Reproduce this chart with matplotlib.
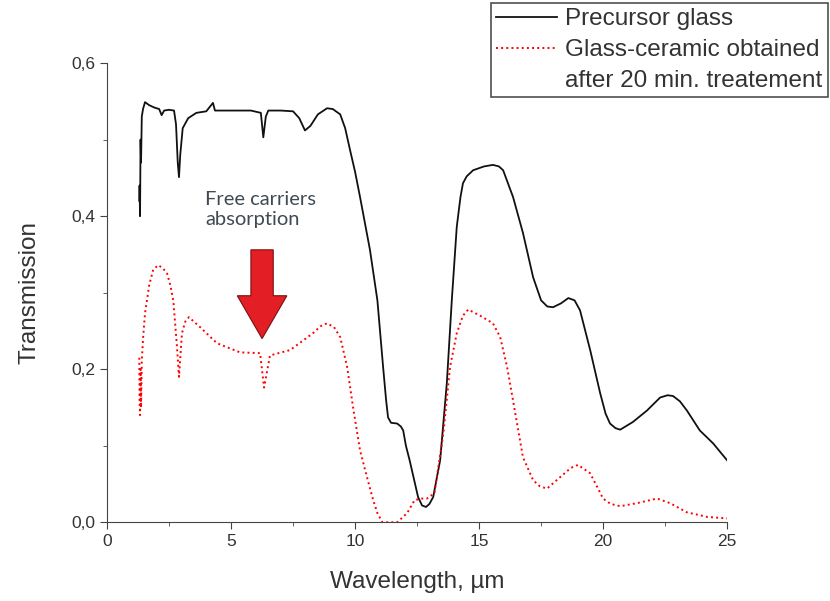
import matplotlib
matplotlib.use('Agg')
import matplotlib.pyplot as plt
from matplotlib.lines import Line2D
from matplotlib.patches import FancyArrow
from matplotlib.ticker import MultipleLocator, FuncFormatter

# Precursor glass (black solid)
wl_glass = [1.30, 1.31, 1.33, 1.35, 1.37, 1.40, 1.45, 1.53, 1.7, 1.9, 2.1, 2.2, 2.3, 2.5,
            2.7, 2.78, 2.85, 2.9, 2.95, 3.05, 3.27, 3.6, 4.0, 4.27, 4.35, 5.0, 5.8, 6.2,
            6.3, 6.4, 6.5, 7.0, 7.5, 7.75, 7.98, 8.2, 8.5, 8.87, 9.1, 9.4, 9.6, 9.8, 10.0,
            10.2, 10.6, 10.9, 11.13, 11.25, 11.33, 11.45, 11.7, 11.85, 11.94, 12.05, 12.2,
            12.54, 12.7, 12.86, 13.0, 13.15, 13.43, 13.7, 13.9, 14.1, 14.25, 14.35, 14.5,
            14.76, 15.2, 15.56, 15.8, 15.97, 16.37, 16.77, 17.18, 17.5, 17.75, 17.98, 18.3,
            18.6, 18.85, 19.07, 19.48, 19.88, 20.1, 20.28, 20.5, 20.69, 21.2, 21.77, 22.3,
            22.6, 22.82, 23.1, 23.38, 23.9, 24.44, 25.0]
tr_glass = [0.42, 0.44, 0.40, 0.50, 0.47, 0.53, 0.54, 0.549, 0.545, 0.542, 0.540, 0.532,
            0.538, 0.539, 0.538, 0.52, 0.47, 0.451, 0.48, 0.515, 0.528, 0.535, 0.537,
            0.548, 0.538, 0.538, 0.538, 0.535, 0.503, 0.53, 0.538, 0.538, 0.537, 0.528,
            0.512, 0.518, 0.533, 0.541, 0.540, 0.533, 0.515, 0.486, 0.458, 0.425, 0.356,
            0.29, 0.203, 0.16, 0.137, 0.130, 0.129, 0.125, 0.12, 0.10, 0.081, 0.033,
            0.022, 0.02, 0.024, 0.033, 0.081, 0.182, 0.29, 0.386, 0.425, 0.443, 0.452,
            0.46, 0.465, 0.467, 0.465, 0.46, 0.425, 0.378, 0.32, 0.29, 0.282, 0.281, 0.286,
            0.293, 0.290, 0.277, 0.225, 0.169, 0.142, 0.129, 0.123, 0.121, 0.131, 0.146,
            0.163, 0.166, 0.165, 0.158, 0.146, 0.12, 0.103, 0.081]

# Glass-ceramic after 20 min (red dotted)
wl_ceramic = [1.30, 1.31, 1.33, 1.35, 1.37, 1.40, 1.45, 1.53, 1.7, 1.86, 2.06, 2.25, 2.42,
              2.55, 2.67, 2.82, 2.9, 3.02, 3.15, 3.3, 3.75, 4.43, 5.36, 6.17, 6.33, 6.57,
              7.38, 8.3, 8.6, 8.87, 9.15, 9.4, 9.68, 9.92, 10.2, 10.48, 10.73, 10.9, 11.1,
              11.7, 12.1, 12.4, 12.7, 12.9, 13.2, 13.56, 13.83, 14.1, 14.35, 14.56, 15.04,
              15.56, 15.85, 16.13, 16.37, 16.77, 17.18, 17.45, 17.74, 18.27, 18.7, 18.99,
              19.48, 20.0, 20.3, 20.69, 21.37, 22.18, 22.7, 23.38, 24.2, 25.0]
tr_ceramic = [0.215, 0.16, 0.14, 0.20, 0.15, 0.21, 0.24, 0.273, 0.31, 0.33, 0.336, 0.332,
              0.325, 0.31, 0.29, 0.229, 0.19, 0.247, 0.262, 0.268, 0.255, 0.234, 0.222,
              0.221, 0.176, 0.218, 0.225, 0.247, 0.256, 0.26, 0.255, 0.242, 0.203, 0.15,
              0.094, 0.059, 0.029, 0.012, 0.0, 0.0, 0.012, 0.029, 0.031, 0.031, 0.038,
              0.116, 0.203, 0.247, 0.27, 0.278, 0.27, 0.26, 0.242, 0.203, 0.159, 0.085,
              0.055, 0.047, 0.044, 0.059, 0.071, 0.075, 0.064, 0.031, 0.024, 0.021, 0.025,
              0.031, 0.025, 0.013, 0.007, 0.005]

legend_labels = ['Precursor glass', 'Glass-ceramic obtained', 'after 20 min. treatement']

plt.rcParams['font.family'] = ['Liberation Sans', 'DejaVu Sans']

fig = plt.figure(figsize=(8.3, 6.01), dpi=100)
ax = fig.add_axes([0.129, 0.131, 0.747, 0.764])

l1, = ax.plot(wl_glass, tr_glass, color='#111111', lw=1.3)
l2, = ax.plot(wl_ceramic, tr_ceramic, color='red', lw=1.4, linestyle=':')
blank = Line2D([], [], color='none')

ax.set_xlim(0, 25)
ax.set_ylim(0, 0.6)
ax.xaxis.set_major_locator(MultipleLocator(5))
ax.xaxis.set_minor_locator(MultipleLocator(2.5))
ax.yaxis.set_major_locator(MultipleLocator(0.2))
ax.yaxis.set_minor_locator(MultipleLocator(0.1))
ax.yaxis.set_major_formatter(FuncFormatter(lambda v, p: f'{v:.1f}'.replace('.', ',')))
ax.spines['top'].set_visible(False)
ax.spines['right'].set_visible(False)
for s in ('left', 'bottom'):
    ax.spines[s].set_color('#444444')
ax.tick_params(which='major', direction='out', length=5, labelsize=12.5, colors='#444444',
               labelcolor='#333333')
ax.tick_params(which='minor', direction='out', length=3, colors='#444444')

ax.set_xlabel('Wavelength, µm', fontsize=17.5, color='#333333', labelpad=16)
ax.set_ylabel('Transmission', fontsize=17.5, color='#333333', labelpad=22)

# annotation
ax.text(3.95, 0.433, 'Free carriers\nabsorption', fontsize=14.5, family=['Lato', 'DejaVu Sans'],
        color='#404a55', va='top', ha='left', linespacing=1.25)
ax.add_patch(FancyArrow(6.25, 0.356, 0, -0.116, width=0.9, head_width=2.0,
                        head_length=0.056, length_includes_head=True,
                        facecolor='#e41e25', edgecolor='#7a1010', lw=0.8))

leg = fig.legend(handles=[l1, l2, blank], labels=legend_labels, loc='upper right',
                 bbox_to_anchor=(0.9976, 0.995), fontsize=17.5, frameon=True,
                 fancybox=False, handlelength=2.5, borderpad=0.22, labelspacing=0.36,
                 handletextpad=0.35, borderaxespad=0)
leg.get_frame().set_edgecolor('#222222')
leg.get_frame().set_linewidth(1.2)
for t in leg.get_texts():
    t.set_color('#333333')

fig.savefig('out.png', dpi=100)
